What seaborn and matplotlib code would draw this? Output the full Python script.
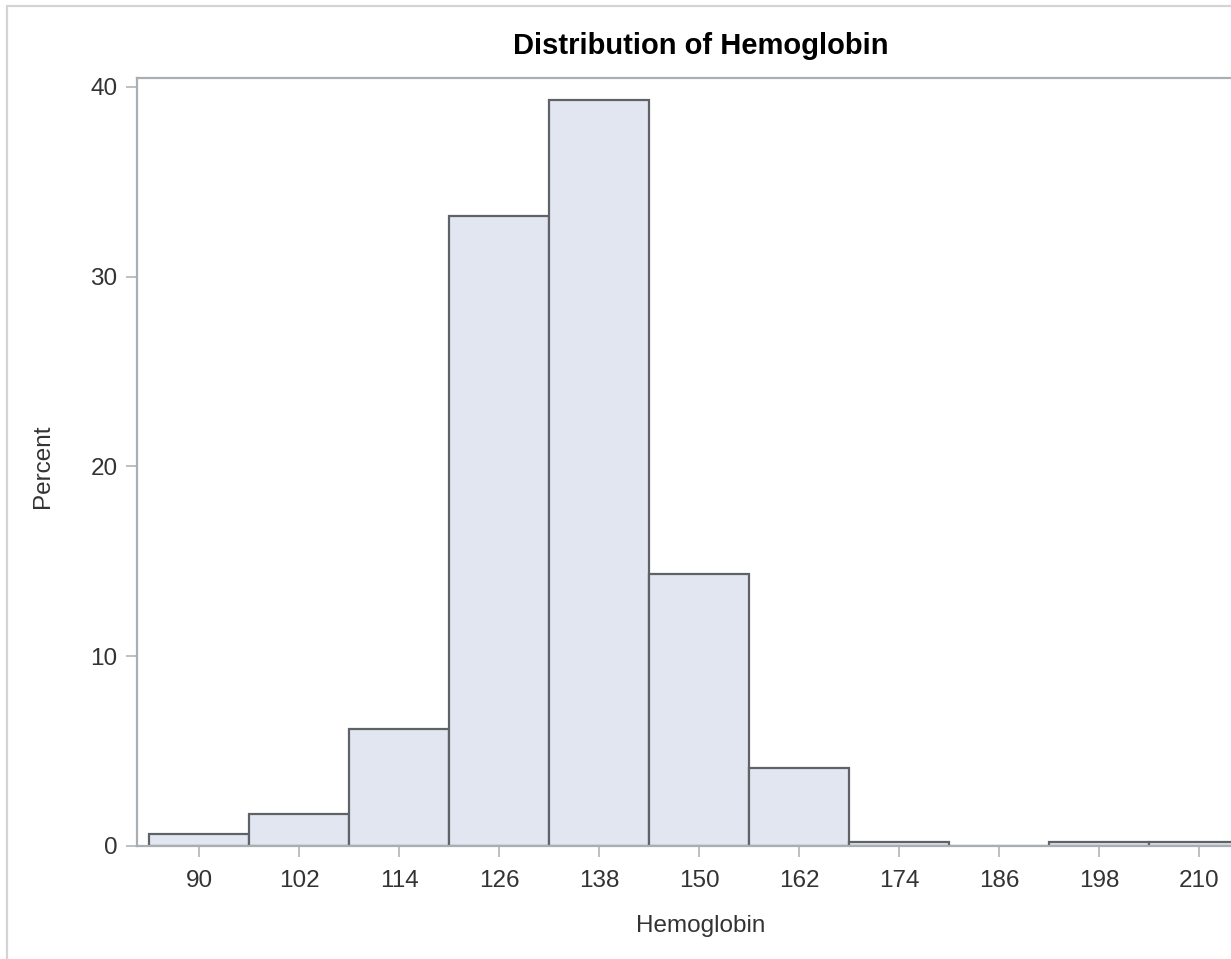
import matplotlib
matplotlib.use("Agg")
import matplotlib.pyplot as plt
import seaborn as sns
import numpy as np
import pandas as pd
from matplotlib.lines import Line2D

# Data: bin midpoints (Hemoglobin) and percent in each bin
bin_midpoints = [90, 102, 114, 126, 138, 150, 162, 174, 186, 198, 210]
percent = [0.63, 1.68, 6.14, 33.2, 39.3, 14.35, 4.09, 0.2, 0.0, 0.2, 0.2]
bin_width = 12
x_ticks = [90, 102, 114, 126, 138, 150, 162, 174, 186, 198, 210]
y_ticks = [0, 10, 20, 30, 40]

df = pd.DataFrame({"Hemoglobin": bin_midpoints, "Percent": percent})

sns.set_theme(style="white")
plt.rcParams['font.family'] = ['Liberation Sans', 'DejaVu Sans']

W, H = 1231, 959
fig = plt.figure(figsize=(W / 100, H / 100), dpi=100)
ax = fig.add_axes([137 / W, 1 - 846 / H, (W - 137) / W, (846 - 78) / H])

sns.histplot(data=df, x="Hemoglobin", weights="Percent",
             binwidth=bin_width,
             binrange=(bin_midpoints[0] - bin_width / 2, bin_midpoints[-1] + bin_width / 2),
             ax=ax, color="#E1E6F0", edgecolor="#5f6266", linewidth=1.6, alpha=1.0)

ax.set_xlim(82.56, 213.84)
ax.set_ylim(0, 40.47)
ax.set_xticks(x_ticks)
ax.set_yticks(y_ticks)

spine_color = "#a9aeb3"
for side in ["left", "bottom", "top"]:
    ax.spines[side].set_visible(True)
    ax.spines[side].set_color(spine_color)
    ax.spines[side].set_linewidth(1.6)
ax.spines["right"].set_visible(False)

ax.tick_params(axis="both", which="major", length=8, width=1.2,
               color="#b0b5ba", labelsize=17.5, labelcolor="#333333",
               bottom=True, left=True)
ax.tick_params(axis="x", pad=9)
ax.tick_params(axis="y", pad=6)

ax.set_xlabel("Hemoglobin", fontsize=17.5, color="#333333")
ax.set_ylabel("Percent", fontsize=17.5, color="#333333")
ax.xaxis.set_label_coords((701 - 137) / (W - 137), -(915 - 846) / (846 - 78))
ax.yaxis.set_label_coords(-(137 - 54) / (W - 137), (846 - 466) / (846 - 78))

fig.text(701 / W, 1 - 46 / H, "Distribution of Hemoglobin", ha="center",
         va="center", fontsize=21, fontweight="bold", color="#000000")

# outer frame (left and top edges visible in the crop)
fig.add_artist(Line2D([7 / W, 7 / W], [0, 1 - 6 / H], transform=fig.transFigure,
                      color="#d4d4d4", linewidth=1.6))
fig.add_artist(Line2D([7 / W, 1], [1 - 6 / H, 1 - 6 / H], transform=fig.transFigure,
                      color="#d4d4d4", linewidth=1.6))

fig.savefig("out.png", dpi=100, facecolor="white")
